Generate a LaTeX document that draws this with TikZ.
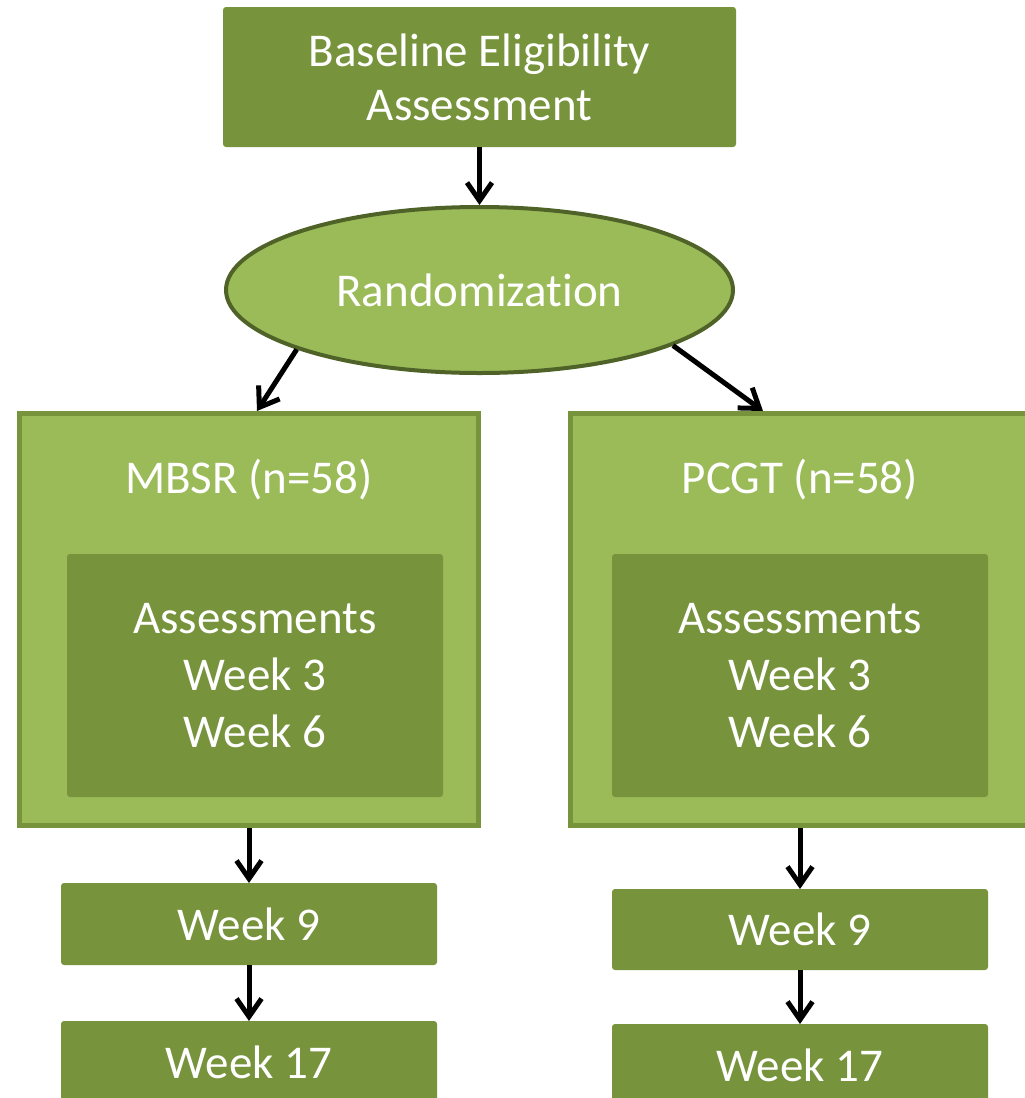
\documentclass[tikz,border=0pt]{standalone}
\usepackage{fontspec}
\setmainfont{Carlito}[RawFeature={-liga;-clig;-dlig;-calt;-rlig;-hlig}]
\usetikzlibrary{arrows.meta,shapes.geometric,calc}
\definecolor{dkgreen}{HTML}{77933C}
\definecolor{ltgreen}{HTML}{9BBB59}
\definecolor{edgegreen}{HTML}{4F6228}
\begin{document}
\begin{tikzpicture}[x=1pt,y=-1pt,
  txt/.style={text=white,font=\fontsize{47}{54}\selectfont,align=center,inner sep=0pt},
  darkbox/.style={txt,rectangle,fill=dkgreen,rounded corners=3pt,outer sep=0pt},
  armbox/.style={rectangle,fill=ltgreen,draw=dkgreen,line width=5pt,inner sep=0pt,minimum width=459pt,minimum height=412pt},
  weekbox/.style={darkbox,minimum width=376pt,minimum height=82pt},
  innerbox/.style={darkbox,font=\fontsize{47}{57}\selectfont,minimum width=376pt,minimum height=243pt},
  arr/.style={line width=5pt,-{Straight Barb[length=18pt,width=25pt]}}]
\useasboundingbox (0,0) rectangle (1025,1098);
\clip (0,0) rectangle (1025,1098);

\node[darkbox,minimum width=513pt,minimum height=140pt] (base) at (479.5,77) {Baseline Eligibility\\Assessment};
\node[txt,ellipse,fill=ltgreen,draw=edgegreen,line width=4pt,minimum width=507pt,minimum height=166pt] (rand) at (479.5,290) {Randomization};

\node[armbox] (mbsr) at (249,619.5) {};
\node[armbox] (pcgt) at (800,619.5) {};
\node[txt,anchor=base] (mbsrt) at (249,493) {MBSR (n=58)};
\node[txt,anchor=base] (pcgtt) at (800,493) {PCGT (n=58)};
\node[innerbox] (ia) at (255,675.5) {Assessments\\Week 3\\Week 6};
\node[innerbox] (ib) at (800,675.5) {Assessments\\Week 3\\Week 6};

\node[weekbox] (a9) at (249,924) {Week 9};
\node[weekbox] (a17) at (249,1062) {Week 17};
\node[weekbox,minimum height=81pt] (b9) at (800,929.5) {Week 9};
\node[weekbox] (b17) at (800,1065) {Week 17};

\draw[arr] (base.south) -- (rand.north);
\draw[arr] (rand.198.4) -- ($(mbsr.north)+(8,0)$);
\draw[arr] (rand.-16.9) -- ($(pcgt.north)+(-37,0)$);
\draw[arr] (mbsr.south) -- (a9.north);
\draw[arr] (a9.south) -- (a17.north);
\draw[arr] (pcgt.south) -- (b9.north);
\draw[arr] (b9.south) -- (b17.north);
\end{tikzpicture}
\end{document}
